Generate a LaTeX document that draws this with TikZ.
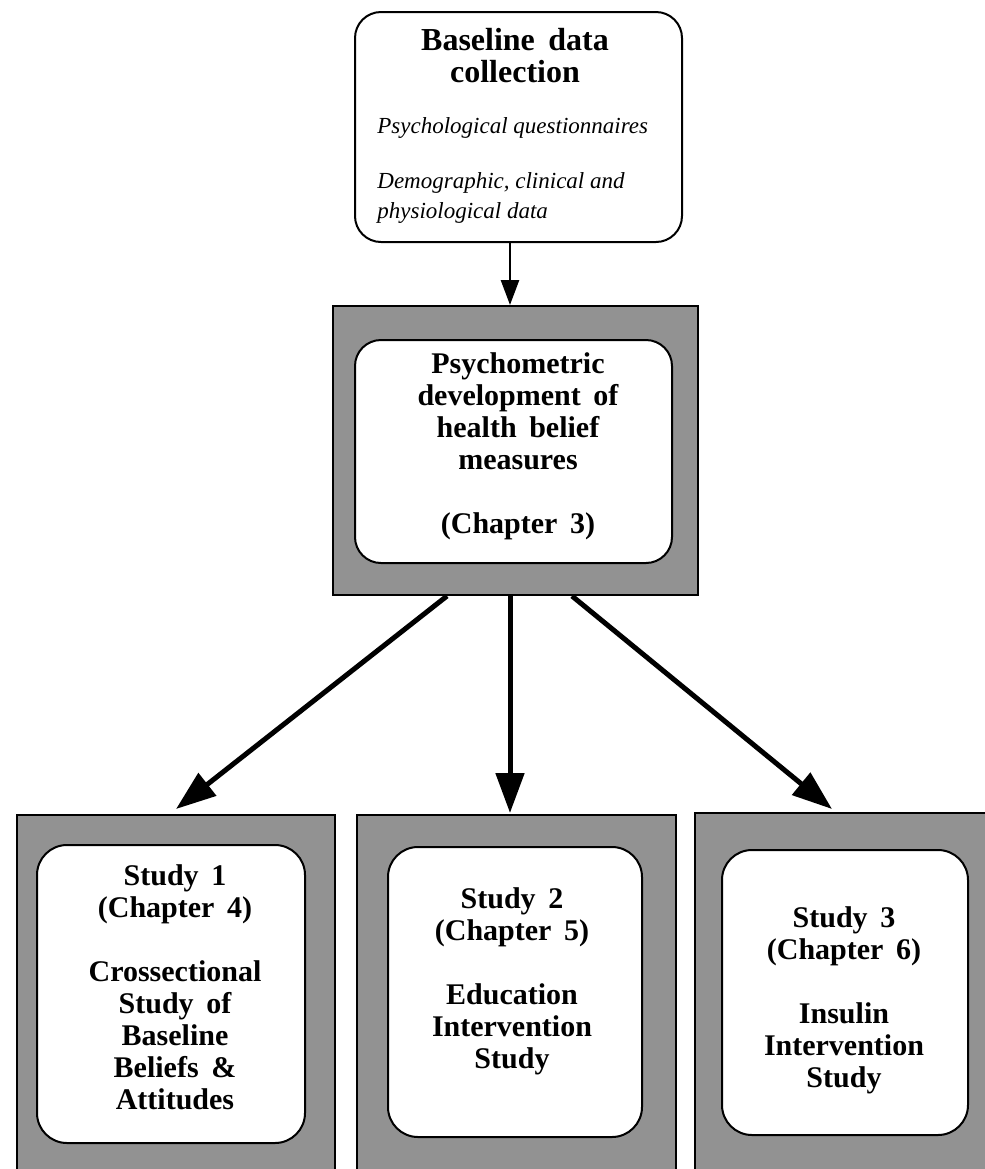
\documentclass[tikz,border=0pt]{standalone}
\usepackage{fontspec}
\setmainfont{Liberation Serif}
\usepackage{tikz}
\usetikzlibrary{arrows.meta}
\definecolor{frame}{RGB}{146,146,146}
\newcommand{\wordgap}{\spaceskip=0.42em\relax}

\begin{document}
\begin{tikzpicture}[x=0.5pt,y=-0.5pt,
  topbox/.style={draw=black,line width=1pt,fill=white,rounded corners=13pt,minimum width=163.5pt,minimum height=115pt},
  graybox/.style={draw=black,line width=1pt,fill=frame},
  whitebox/.style={draw=black,line width=1pt,fill=white,rounded corners=15pt},
  boldtext/.style={align=center,inner sep=0pt,font=\fontsize{15}{16}\selectfont\bfseries\wordgap},
  itemtext/.style={align=left,inner sep=0pt,font=\fontsize{11.5}{15}\selectfont\itshape},
  thinarrow/.style={line width=1.3pt,-{Triangle[length=12.5pt,width=9pt]}},
  bigarrow/.style={line width=2.5pt,-{Triangle[length=20pt,width=14pt]}}]
\useasboundingbox (0,0) rectangle (985,1169);
\clip (0,0) rectangle (985,1169);

\node[topbox] (base) at (518.5,127) {};
\node[boldtext,font=\fontsize{16}{16}\selectfont\bfseries\wordgap,anchor=north] (basetitle) at (515,28) {Baseline data\\collection};
\node[itemtext,anchor=north west] (baseitems) at (377,117) {Psychological questionnaires\\[12.5pt]Demographic, clinical and\\physiological data};

\node[graybox,minimum width=182.5pt,minimum height=144.5pt] (psyframe) at (515.5,450.5) {};
\node[whitebox,rounded corners=13pt,minimum width=158.5pt,minimum height=111.5pt] (psy) at (513.5,451.5) {};
\node[boldtext,anchor=north] (psytext) at (518,352) {Psychometric\\development of\\health belief\\measures\\[16pt](Chapter 3)};

\node[graybox,minimum width=159pt,minimum height=200pt] (study1frame) at (176,1015) {};
\node[whitebox,minimum width=134pt,minimum height=149pt] (study1) at (171,994) {};
\node[boldtext,anchor=north] (study1text) at (175,864) {Study 1\\(Chapter 4)\\[16pt]Crossectional\\Study of\\Baseline\\Beliefs \&\\Attitudes};

\node[graybox,minimum width=159.5pt,minimum height=200pt] (study2frame) at (516.5,1015) {};
\node[whitebox,minimum width=127pt,minimum height=145pt] (study2) at (515,992) {};
\node[boldtext,anchor=north] (study2text) at (512,887) {Study 2\\(Chapter 5)\\[16pt]Education\\Intervention\\Study};

\node[graybox,minimum width=160pt,minimum height=201pt] (study3frame) at (855,1014) {};
\node[whitebox,minimum width=123pt,minimum height=142.5pt] (study3) at (845,992.5) {};
\node[boldtext,anchor=north] (study3text) at (844,906) {Study 3\\(Chapter 6)\\[16pt]Insulin\\Intervention\\Study};

\draw[thinarrow] ([shift={(-8.5,0)}]base.south) -- ([shift={(-5.5,0)}]psyframe.north);
\draw[bigarrow] ([shift={(-68.5,0)}]psyframe.south) -- ([shift={(0,-5)}]study1frame.north);
\draw[bigarrow] ([shift={(-5.5,0)}]psyframe.south) -- ([shift={(-6.5,-1)}]study2frame.north);
\draw[bigarrow] ([shift={(56.5,0)}]psyframe.south) -- ([shift={(-23,-3)}]study3frame.north);

\end{tikzpicture}
\end{document}
